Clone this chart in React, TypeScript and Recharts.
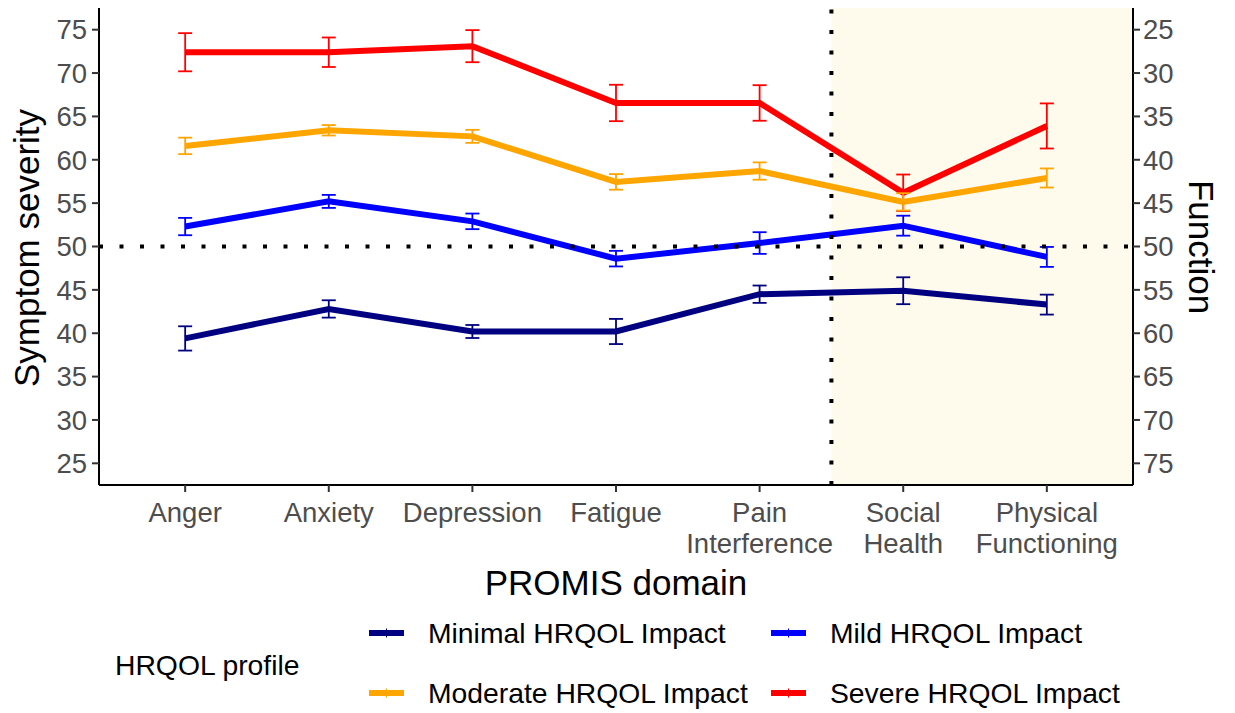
import React from 'react';
import { ComposedChart, Line, XAxis, YAxis, ErrorBar, ReferenceLine, ReferenceArea } from 'recharts';

const domains = ['Anger', 'Anxiety', 'Depression', 'Fatigue', 'Pain Interference', 'Social Health', 'Physical Functioning'];
const domainTickLines = [['Anger'], ['Anxiety'], ['Depression'], ['Fatigue'], ['Pain', 'Interference'], ['Social', 'Health'], ['Physical', 'Functioning']];

const minimalMean = [39.4, 42.8, 40.2, 40.2, 44.5, 44.9, 43.3];
const minimalErr = [1.4, 1.0, 0.75, 1.45, 1.0, 1.55, 1.15];
const mildMean = [52.3, 55.2, 52.9, 48.6, 50.4, 52.4, 48.8];
const mildErr = [1.0, 0.75, 0.9, 0.9, 1.25, 1.15, 1.15];
const moderateMean = [61.6, 63.4, 62.7, 57.45, 58.7, 55.15, 57.9];
const moderateErr = [0.95, 0.6, 0.75, 0.9, 1.0, 1.0, 1.1];
const severeMean = [72.4, 72.4, 73.1, 66.55, 66.55, 56.2, 63.9];
const severeErr = [2.2, 1.7, 1.85, 2.1, 2.05, 2.1, 2.6];

const yTicks = [25, 30, 35, 40, 45, 50, 55, 60, 65, 70, 75];

const series = [
  { key: 'severe', name: 'Severe HRQOL Impact', color: '#FF0000' },
  { key: 'moderate', name: 'Moderate HRQOL Impact', color: '#FFA500' },
  { key: 'mild', name: 'Mild HRQOL Impact', color: '#0000FF' },
  { key: 'minimal', name: 'Minimal HRQOL Impact', color: '#000080' },
];

const rows = domains.map((d, i) => ({
  pos: i + 1,
  domain: d,
  minimal: minimalMean[i],
  minimalErr: minimalErr[i],
  mild: mildMean[i],
  mildErr: mildErr[i],
  moderate: moderateMean[i],
  moderateErr: moderateErr[i],
  severe: severeMean[i],
  severeErr: severeErr[i],
}));

const FONT = '"Liberation Sans", Arial, sans-serif';

const XTick = (props: any) => {
  const { x, y, payload } = props;
  const lines = domainTickLines[payload.value - 1] || [];
  return (
    <text x={x} y={y + 28} textAnchor="middle" fill="#4D4D4D" fontSize={27.5} fontFamily={FONT}>
      {lines.map((l, i) => (
        <tspan key={i} x={x} dy={i === 0 ? 0 : 31}>{l}</tspan>
      ))}
    </text>
  );
};

const LegendKey = ({ x, y, color }: { x: number; y: number; color: string }) => (
  <g>
    <rect x={x} y={y - 3} width={35} height={6} fill={color} />
    <line x1={x + 17.5} x2={x + 17.5} y1={y - 4.5} y2={y + 4.5} stroke={color} strokeWidth={1} />
  </g>
);

export default function App() {
  const legendItems = [
    { s: series[3], x: 369, y: 633 },
    { s: series[2], x: 771, y: 633 },
    { s: series[1], x: 369, y: 693 },
    { s: series[0], x: 771, y: 693 },
  ];
  return (
    <div style={{ position: 'absolute', left: 0, top: 0, width: 1235, height: 713, background: '#fff', fontFamily: FONT }}>
      <ComposedChart width={1235} height={713} data={rows} margin={{ top: 8, right: 0, bottom: 0, left: 0 }}>
        <ReferenceArea yAxisId="left" x1={5.5} x2={7.6} y1={22.5} y2={77.5} fill="#FEFAEC" fillOpacity={1} stroke="none" ifOverflow="hidden" />
        <XAxis
          type="number"
          dataKey="pos"
          domain={[0.4, 7.6]}
          ticks={[1, 2, 3, 4, 5, 6, 7]}
          allowDataOverflow
          height={228}
          tickSize={7}
          tickMargin={2}
          tick={<XTick />}
          axisLine={{ stroke: '#000', strokeWidth: 2 }}
          tickLine={{ stroke: '#333', strokeWidth: 2 }}
        />
        <YAxis
          yAxisId="left"
          domain={[22.5, 77.5]}
          ticks={yTicks}
          allowDataOverflow
          width={99}
          tickSize={7}
          tickMargin={5}
          tick={{ fill: '#4D4D4D', fontSize: 27.5, fontFamily: FONT }}
          axisLine={{ stroke: '#000', strokeWidth: 2 }}
          tickLine={{ stroke: '#333', strokeWidth: 2 }}
        />
        <YAxis
          yAxisId="right"
          orientation="right"
          reversed
          domain={[22.5, 77.5]}
          ticks={yTicks}
          allowDataOverflow
          width={102}
          tickSize={7}
          tickMargin={3}
          tick={{ fill: '#4D4D4D', fontSize: 27.5, fontFamily: FONT }}
          axisLine={{ stroke: '#000', strokeWidth: 2 }}
          tickLine={{ stroke: '#333', strokeWidth: 2 }}
        />
        {series.map((s) => (
          <Line
            key={s.key}
            yAxisId="left"
            type="linear"
            dataKey={s.key}
            name={s.name}
            stroke={s.color}
            strokeWidth={6}
            dot={false}
            activeDot={false}
            isAnimationActive={false}
          >
            <ErrorBar dataKey={`${s.key}Err`} width={7} stroke={s.color} strokeWidth={1.8} direction="y" isAnimationActive={false} />
          </Line>
        ))}
        <ReferenceLine yAxisId="left" y={50} stroke="#000" strokeWidth={4} strokeDasharray="4 16.5" />
        <ReferenceLine yAxisId="left" x={5.5} stroke="#000" strokeWidth={4} strokeDasharray="4 16.5" />
      </ComposedChart>
      <svg width={1235} height={713} style={{ position: 'absolute', left: 0, top: 0, pointerEvents: 'none' }}>
        <text x={39} y={248} transform="rotate(-90 39 248)" textAnchor="middle" fontSize={35} fill="#000" fontFamily={FONT}>
          Symptom severity
        </text>
        <text x={1189} y={247} transform="rotate(90 1189 247)" textAnchor="middle" fontSize={35} fill="#000" fontFamily={FONT}>
          Function
        </text>
        <text x={616} y={595} textAnchor="middle" fontSize={35} fill="#000" fontFamily={FONT}>
          PROMIS domain
        </text>
        <text x={115} y={675} fontSize={28.3} fill="#000" fontFamily={FONT}>
          HRQOL profile
        </text>
        {legendItems.map((it) => (
          <g key={it.s.key}>
            <LegendKey x={it.x} y={it.y} color={it.s.color} />
            <text x={it.x + 59} y={it.y + 10} fontSize={28.3} fill="#000" fontFamily={FONT}>
              {it.s.name}
            </text>
          </g>
        ))}
      </svg>
    </div>
  );
}
